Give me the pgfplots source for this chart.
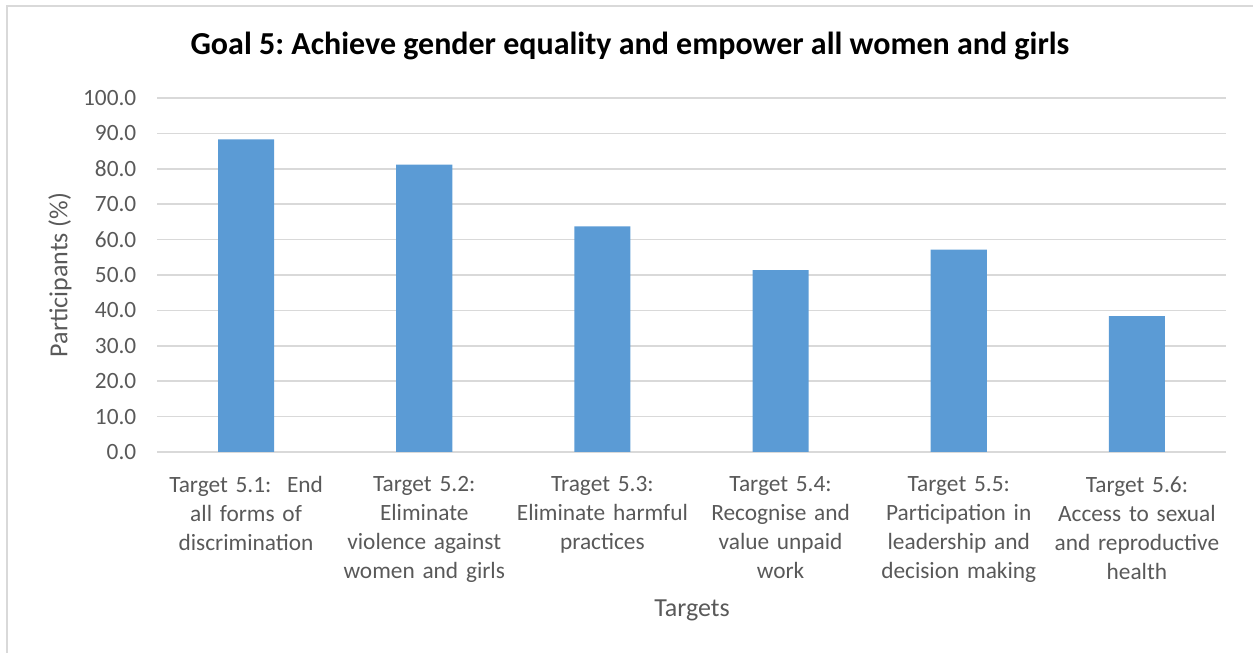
\documentclass[border=0pt]{standalone}
\usepackage{pgfplots}
\pgfplotsset{compat=1.18}
\usepackage{fontspec}
\setmainfont{Carlito}
\frenchspacing
\definecolor{barblue}{HTML}{5B9BD5}
\definecolor{txtgray}{HTML}{595959}
\definecolor{gridgray}{HTML}{D9D9D9}
\begin{document}
\begin{tikzpicture}
\useasboundingbox (0,0) rectangle (939.75pt,489.75pt);
\draw[gridgray, line width=1pt] (939.75pt,485.25pt) -- (5.25pt,485.25pt) -- (5.25pt,0pt);
\begin{axis}[
  at={(117.75pt,150.75pt)}, anchor=south west,
  scale only axis, width=801.75pt, height=265.5pt,
  xmin=-0.5, xmax=5.5, ymin=0, ymax=100,
  ytick={0,10,...,100},
  xtick=data,
  xticklabels={{Target 5.1:\ \ End\\all forms of\\discrimination},{Target 5.2:\\Eliminate\\violence against\\women and girls},{Traget 5.3:\\Eliminate harmful\\practices},{Target 5.4:\\Recognise and\\value unpaid\\work},{Target 5.5:\\Participation in\\leadership and\\decision making},{Target 5.6:\\Access to sexual\\and reproductive\\health}},
  axis line style={draw=none},
  major tick length=0pt,
  ymajorgrids, grid style={gridgray, line width=1.2pt},
  /pgf/number format/assume math mode=true,
  yticklabel={\pgfmathprintnumber[fixed,fixed zerofill,precision=1]{\tick}},
  yticklabel style={font=\fontsize{17.5}{21}\selectfont, text=txtgray, xshift=-12pt},
  xticklabel style={font=\fontsize{17.5}{21.75}\selectfont, text=txtgray, align=center, text width=135pt, anchor=north, yshift=-15pt},
  ybar, bar width=0.315,
  clip=false,
]
\addplot[fill=barblue, draw=none] coordinates {(0,88.3) (1,81.2) (2,63.7) (3,51.4) (4,57.2) (5,38.4)};
\end{axis}
\node[font=\fontsize{24}{29}\selectfont\bfseries] at (472.5pt,455.25pt) {Goal 5: Achieve gender equality and empower all women and girls};
\node[font=\fontsize{19.5}{23}\selectfont, text=txtgray, rotate=90] at (45pt,283.5pt) {Participants (\%)};
\node[font=\fontsize{19.5}{23}\selectfont, text=txtgray] at (519pt,32.25pt) {Targets};
\end{tikzpicture}
\end{document}
